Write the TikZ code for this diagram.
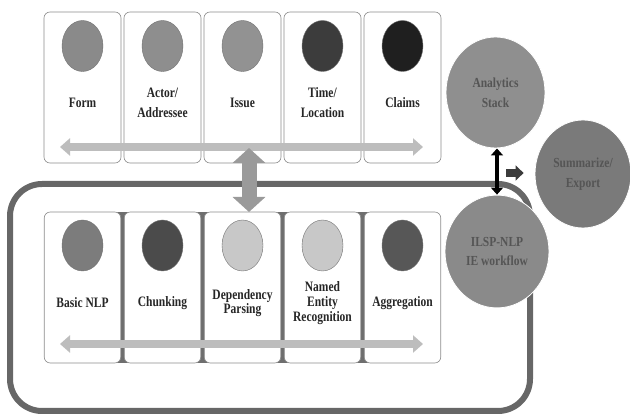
\documentclass[tikz,border=0pt]{standalone}
\usepackage{fontspec}
\setmainfont{Liberation Serif}
\usetikzlibrary{arrows.meta,shapes.geometric}

\definecolor{framegray}{HTML}{676767}
\definecolor{rowgray}{HTML}{6E6E6E}
\definecolor{barlight}{HTML}{BDBDBD}
\definecolor{linkgray}{HTML}{9A9A9A}
\definecolor{bubtext}{HTML}{555555}

\tikzset{
  panel/.style={draw=black!45,fill=white,line width=0.6pt,rounded corners=6pt,minimum width=77pt,minimum height=151pt,inner sep=0pt},
  blob/.style={ellipse,draw=black!55,line width=0.4pt,minimum width=41pt,minimum height=51pt,inner sep=0pt},
  lbl/.style={font=\fontsize{11.5}{16}\selectfont\bfseries,align=center,yscale=1.25,text=black!85,inner sep=0pt},
  bub/.style={ellipse,draw=white,line width=0.8pt,inner sep=0pt,yscale=1.2,align=center,text=bubtext,font=\fontsize{11.5}{16.5}\selectfont\bfseries},
  flowbar/.style={draw=barlight,line width=8pt,{Triangle[length=10pt,width=17pt]}-{Triangle[length=10pt,width=17pt]}},
}

\begin{document}
\begin{tikzpicture}[x=1pt,y=-1pt,line join=round]
\useasboundingbox (0,0) rectangle (630,414);
% --- outer frame of the IE workflow
\draw[framegray,line width=6pt,rounded corners=32pt] (10,184) rectangle (530,411);
% --- top row: extracted facets
\foreach \i/\c in {1/8A8A8A,2/8E8E8E,3/929292,4/3C3C3C,5/1F1F1F} {
  \node[panel] (top\i) at (2.5+80*\i,87.5) {};
  \definecolor{blobfill}{HTML}{\c}
  \node[blob,fill=blobfill] (topdot\i) at (2.5+80*\i,46) {};
}
\node[lbl] (form) at (top1 |- 0,103) {Form};
\node[lbl] (actor) at (top2 |- 0,103) {Actor/\\Addressee};
\node[lbl] (issue) at (top3 |- 0,103) {Issue};
\node[lbl] (time) at (top4 |- 0,103) {Time/\\Location};
\node[lbl] (claims) at (top5 |- 0,103) {Claims};
\coordinate (topleft) at (60,147);
\coordinate (topright) at (423,147);
\draw[flowbar] (topleft) -- (topright);
% --- bottom row: NLP pipeline
\fill[rowgray] (82,212) rectangle (402,363);
\foreach \i/\c in {1/7C7C7C,2/4B4B4B,3/C8C8C8,4/C8C8C8,5/575757} {
  \node[panel,minimum width=76.5pt] (low\i) at (2.5+80*\i,287.5) {};
  \definecolor{blobfill}{HTML}{\c}
  \node[blob,fill=blobfill] (lowdot\i) at (2.5+80*\i,245.5) {};
}
\node[lbl] (basic) at (low1 |- 0,303) {Basic NLP};
\node[lbl] (chunk) at (low2 |- 0,303) {Chunking};
\node[lbl,font=\fontsize{11.5}{11.5}\selectfont\bfseries] (dep) at (low3 |- 0,303) {Dependency\\Parsing};
\node[lbl,font=\fontsize{11.5}{12}\selectfont\bfseries] (ner) at (low4 |- 0,303) {Named\\Entity\\Recognition};
\node[lbl] (aggr) at (low5 |- 0,303) {Aggregation};
\coordinate (lowleft) at (60,344);
\coordinate (lowright) at (423,344);
\draw[flowbar] (lowleft) -- (lowright);
% link between the rows
\coordinate (linktop) at (249,148);
\coordinate (linkbot) at (249,212);
\draw[linkgray,line width=15pt,{Triangle[length=15pt,width=32pt]}-{Triangle[length=15pt,width=32pt]}] (linktop) -- (linkbot);
% --- right side: stack, workflow, export
\node[bub,fill=black!44,minimum width=99pt,minimum height=92.5pt] (ana) at (495.5,92.5) {Analytics\\Stack};
\node[bub,fill=black!46,minimum width=104pt,minimum height=94pt] (ilsp) at (497,251.5) {ILSP-NLP\\IE workflow};
\node[bub,fill=black!52,minimum width=96pt,minimum height=90pt] (sum) at (583,174) {Summarize/\\Export};
\draw[black,line width=3.5pt,{Triangle[length=7pt,width=12pt]}-{Triangle[length=7pt,width=12pt]}] (ilsp.north |- ana.south) -- (ilsp.north);
\coordinate (exportfrom) at (506,173);
\draw[black!77,line width=8pt,-{Triangle[length=8pt,width=15pt]},shorten >=11pt] (exportfrom) -- (sum.west |- exportfrom);
\end{tikzpicture}
\end{document}
